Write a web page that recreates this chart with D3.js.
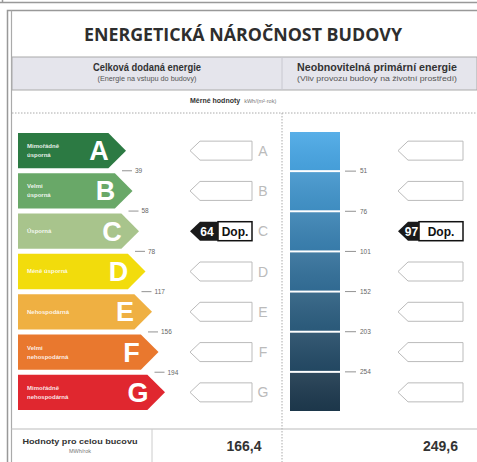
<!DOCTYPE html>
<html>
<head>
<meta charset="utf-8">
<script src="https://cdn.jsdelivr.net/npm/d3@7"></script>
<style>
  body { margin: 0; background: #fff; }
  svg { display: block; }
</style>
</head>
<body>
<svg id="chart" width="477" height="462"></svg>
<script>
// energy classes and their labels
const classes = ['A', 'B', 'C', 'D', 'E', 'F', 'G']
const classLabels = [
  ['Mimořádně', 'úsporná'],
  ['Velmi', 'úsporná'],
  ['Úsporná'],
  ['Méně úsporná'],
  ['Nehospodárná'],
  ['Velmi', 'nehospodárná'],
  ['Mimořádně', 'nehospodárná'],
]
// class limits kWh/(m2.rok)
const deliveredLimits = [39, 58, 78, 117, 156, 194]
const primaryLimits = [51, 76, 101, 152, 203, 254]
// building values
const deliveredValue = 64
const deliveredClass = 'C'
const primaryValue = 97
const primaryClass = 'C'
const wholeBuilding = [166.4, 249.6]

const classColors = ['#2c7a43', '#69a868', '#a8c48c', '#f2dc0c', '#efb042', '#e9782e', '#e0272f']

const svg = d3.select('#chart')
const W = 477, H = 462
const ink = '#333'
const sans = '"Liberation Sans", Arial, sans-serif'
const fmt = (v) => d3.format('.1f')(v).replace('.', ',')

// frame
svg.append('path').attr('d', 'M0,2.5H477M2.5,0V2.5').attr('stroke', '#999').attr('stroke-width', 1.5).attr('fill', 'none')
svg.append('path').attr('d', `M7.5,${H}V10.5H${W}`).attr('stroke', '#999').attr('stroke-width', 1.5).attr('fill', 'none')
svg.append('line').attr('x1', 11.5).attr('x2', 11.5).attr('y1', 10.5).attr('y2', H).attr('stroke', '#aaa').attr('stroke-width', 1.2)

// title
svg.append('text')
  .attr('x', 243).attr('y', 40.5)
  .attr('text-anchor', 'middle')
  .attr('textLength', 318).attr('lengthAdjust', 'spacingAndGlyphs')
  .style('font', '700 17px "Open Sans", sans-serif')
  .attr('fill', '#2e2e2e')
  .text('ENERGETICKÁ NÁROČNOST BUDOVY')

// header band
svg.append('rect').attr('x', 12).attr('y', 57).attr('width', W - 12).attr('height', 33)
  .attr('fill', '#e5e5ec').attr('stroke', '#aaa').attr('stroke-width', 1)
svg.append('line').attr('x1', 282).attr('x2', 282).attr('y1', 57).attr('y2', 90).attr('stroke', '#c8c8d0')

const heads = [
  { x: 147, t: 'Celková dodaná energie', s: '(Energie na vstupu do budovy)', w: 108, sw: 99 },
  { x: 377, t: 'Neobnovitelná primární energie', s: '(Vliv provozu budovy na životní prostředí)', w: 160, sw: 160 },
]
heads.forEach((h) => {
  svg.append('text').attr('x', h.x).attr('y', 71).attr('text-anchor', 'middle')
    .attr('textLength', h.w).attr('lengthAdjust', 'spacingAndGlyphs')
    .style('font', `bold 10.5px ${sans}`).attr('fill', ink).text(h.t)
  svg.append('text').attr('x', h.x).attr('y', 81).attr('text-anchor', 'middle')
    .attr('textLength', h.sw).attr('lengthAdjust', 'spacingAndGlyphs')
    .style('font', `6.5px ${sans}`).attr('fill', '#555').text(h.s)
})

const unit = svg.append('text').attr('x', 190).attr('y', 103).attr('fill', ink)
unit.append('tspan').style('font', `bold 7px ${sans}`).text('Měrné hodnoty')
unit.append('tspan').attr('dx', 4).style('font', `5.5px ${sans}`).attr('fill', '#777').text('kWh/(m²·rok)')

// dotted separators
svg.append('line').attr('x1', 12).attr('x2', W).attr('y1', 113).attr('y2', 113)
  .attr('stroke', '#aaa').attr('stroke-dasharray', '1.5,1.5')
svg.append('line').attr('x1', 282).attr('x2', 282).attr('y1', 113).attr('y2', H)
  .attr('stroke', '#aaa').attr('stroke-dasharray', '1.5,1.5')

// scales
const y = d3.scaleBand().domain(classes).range([133, 410]).paddingInner(0.125)
const bw = y.bandwidth()
const tipX = d3.scaleLinear().domain([0, classes.length - 1]).range([126, 165])
const yBar = d3.scaleBand().domain(classes).range([132, 411]).paddingInner(0.05)
const blue = d3.scaleLinear().domain([0, classes.length - 1]).range(['#4aa8e6', '#1e3a4f'])

// left: class arrows
const bands = svg.append('g').selectAll('g').data(classes).join('g')
  .attr('transform', (d) => `translate(0,${y(d)})`)
bands.append('path')
  .attr('d', (d, i) => {
    const t = tipX(i)
    return `M18,0H${t - bw / 2}L${t},${bw / 2}L${t - bw / 2},${bw}H18Z`
  })
  .attr('fill', (d, i) => classColors[i])
bands.append('text')
  .attr('x', (d, i) => tipX(i) - 27).attr('y', bw / 2 + 9.5)
  .attr('text-anchor', 'middle')
  .style('font', `bold 27px ${sans}`).attr('fill', '#fff')
  .text((d) => d)
bands.each(function (d, i) {
  const lines = classLabels[i]
  const t = d3.select(this).append('text')
    .style('font', `bold 6px ${sans}`).attr('fill', '#fff').attr('fill-opacity', 0.9)
  lines.forEach((l, j) => {
    t.append('tspan').attr('x', 27)
      .attr('y', bw / 2 + 2 + (j - (lines.length - 1) / 2) * 9)
      .text(l)
  })
})

// left: limit ticks
const gapY = (i) => (y(classes[i]) + bw + y(classes[i + 1])) / 2
const lt = svg.append('g').selectAll('g').data(deliveredLimits).join('g')
  .attr('transform', (d, i) => `translate(${tipX(i)},${gapY(i)})`)
lt.append('line').attr('x1', -4).attr('x2', 6).attr('stroke', '#777').attr('stroke-width', 0.8)
lt.append('text').attr('x', 9).attr('y', 2.3).style('font', `6.5px ${sans}`).attr('fill', '#666').text((d) => d)

// indicator arrows
function indicators(x0, x1, showLetter, value, cls) {
  const h = 19
  const g = svg.append('g').selectAll('g').data(classes).join('g')
    .attr('transform', (d) => `translate(0,${y(d) + bw / 2})`)
  g.filter((d) => d !== cls).append('path')
    .attr('d', `M${x0},0L${x0 + 10},${-h / 2}H${x1}V${h / 2}H${x0 + 10}Z`)
    .attr('fill', '#fff').attr('stroke', '#bbb').attr('stroke-width', 1)
  if (showLetter) {
    g.append('text').attr('x', x1 + 11).attr('y', 5).attr('text-anchor', 'middle')
      .style('font', `14px ${sans}`).attr('fill', '#bbb').text((d) => d)
  }
  const cur = g.filter((d) => d === cls)
  const split = x0 + 28 - (x0 > 300 ? 7 : 0)
  cur.append('rect').attr('x', split).attr('y', -h / 2).attr('width', x1 - split).attr('height', h)
    .attr('fill', '#fff').attr('stroke', '#111').attr('stroke-width', 1.5)
  cur.append('path')
    .attr('d', `M${x0},0L${x0 + 10},${-h / 2}H${split}V${h / 2}H${x0 + 10}Z`)
    .attr('fill', '#1a1a1a')
  cur.append('text').attr('x', (x0 + 6 + split) / 2).attr('y', 4.5).attr('text-anchor', 'middle')
    .style('font', `bold 12px ${sans}`).attr('fill', '#fff').text(value)
  cur.append('text').attr('x', (split + x1) / 2).attr('y', 4.5).attr('text-anchor', 'middle')
    .style('font', `bold 12px ${sans}`).attr('fill', '#111').text('Dop.')
}
indicators(190, 252, true, deliveredValue, deliveredClass)
indicators(398, 463, false, primaryValue, primaryClass)

// right: blue bar
const defs = svg.append('defs')
const gl = defs.append('linearGradient').attr('id', 'sheen').attr('x1', 0).attr('x2', 0).attr('y1', 0).attr('y2', 1)
gl.append('stop').attr('offset', 0).attr('stop-color', '#fff').attr('stop-opacity', 0.08)
gl.append('stop').attr('offset', 1).attr('stop-color', '#000').attr('stop-opacity', 0.06)
const seg = svg.append('g').selectAll('g').data(classes).join('g')
seg.append('rect').attr('x', 290).attr('width', 50)
  .attr('y', (d) => yBar(d)).attr('height', yBar.bandwidth())
  .attr('fill', (d, i) => blue(i))
seg.append('rect').attr('x', 290).attr('width', 50)
  .attr('y', (d) => yBar(d)).attr('height', yBar.bandwidth())
  .attr('fill', 'url(#sheen)')

const rGap = (i) => (yBar(classes[i]) + yBar.bandwidth() + yBar(classes[i + 1])) / 2
const rt = svg.append('g').selectAll('g').data(primaryLimits).join('g')
  .attr('transform', (d, i) => `translate(345,${rGap(i)})`)
rt.append('line').attr('x1', 0).attr('x2', 11).attr('stroke', '#777').attr('stroke-width', 0.8)
rt.append('text').attr('x', 15).attr('y', 2.3).style('font', `6.5px ${sans}`).attr('fill', '#666').text((d) => d)

// bottom row
svg.append('line').attr('x1', 11).attr('x2', W).attr('y1', 429).attr('y2', 429).attr('stroke', '#bbb').attr('stroke-width', 1.2)
svg.append('line').attr('x1', 152).attr('x2', 152).attr('y1', 429).attr('y2', H).attr('stroke', '#ccc')
svg.append('text').attr('x', 80).attr('y', 444).attr('text-anchor', 'middle')
  .attr('textLength', 115).attr('lengthAdjust', 'spacingAndGlyphs')
  .style('font', `bold 8px ${sans}`).attr('fill', ink).text('Hodnoty pro celou bucovu')
svg.append('text').attr('x', 80).attr('y', 453).attr('text-anchor', 'middle')
  .style('font', `5.5px ${sans}`).attr('fill', '#777').text('MWh/rok')
svg.append('text').attr('x', 244).attr('y', 451).attr('text-anchor', 'middle')
  .style('font', `bold 14px ${sans}`).attr('fill', ink).text(fmt(wholeBuilding[0]))
svg.append('text').attr('x', 458).attr('y', 451).attr('text-anchor', 'end')
  .style('font', `bold 14px ${sans}`).attr('fill', ink).text(fmt(wholeBuilding[1]))
</script>
</body>
</html>
